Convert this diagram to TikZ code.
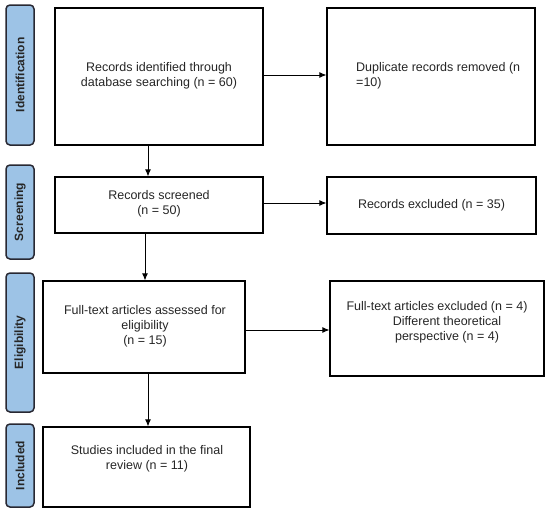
\documentclass[tikz,border=0pt]{standalone}
\usepackage{fontspec}
\setmainfont{Liberation Sans}
\usetikzlibrary{arrows.meta}
\definecolor{lblfill}{RGB}{157,195,230}
\definecolor{lbldraw}{RGB}{40,40,50}
\tikzset{
  box/.style={draw=black, line width=1.2pt, fill=white, inner sep=0pt},
  txt/.style={font=\fontsize{12.5}{15}\selectfont, align=center, inner sep=0pt, text=black!85},
  phase/.style={draw=lbldraw, line width=1.5pt, fill=lblfill, rounded corners=4pt, inner sep=0pt, minimum width=28pt},
  phasetxt/.style={font=\fontsize{12}{14}\selectfont\bfseries, rotate=90, inner sep=0pt, text=black!85},
  arr/.style={draw=black, line width=0.9pt, -{Latex[length=7pt,width=6pt]}}
}
\begin{document}
\begin{tikzpicture}[x=1pt,y=-1pt]
\useasboundingbox (0,0) rectangle (550,517);
% phase labels
\node[phase, minimum height=140pt] (pid) at (20,75) {};
\node[phasetxt] (tid) at (pid.center) {Identification};
\node[phase, minimum height=94pt] (psc) at (20,212) {};
\node[phasetxt] (tsc) at (psc.center) {Screening};
\node[phase, minimum height=139pt] (pel) at (20,342.5) {};
\node[phasetxt] (tel) at (pel.center) {Eligibility};
\node[phase, minimum height=83pt] (pin) at (20,465.5) {};
\node[phasetxt] (tin) at (pin.center) {Included};
% boxes
\node[box, minimum width=208pt, minimum height=137pt] (b1) at (159,76.5) {};
\node[txt] (t1) at (159,76) {Records identified through\\database searching (n = 60)};
\node[box, minimum width=208pt, minimum height=137pt] (b2) at (431,76.5) {};
\node[txt, anchor=west, align=left] (t2) at (356,76) {Duplicate records removed (n\\=10)};
\node[box, minimum width=208pt, minimum height=56pt] (b3) at (159,205) {};
\node[txt] (t3) at (159,204) {Records screened\\(n = 50)};
\node[box, minimum width=209pt, minimum height=57pt] (b4) at (431.5,205.5) {};
\node[txt] (t4) at (431.5,205) {Records excluded (n = 35)};
\node[box, minimum width=202pt, minimum height=92pt] (b5) at (144,327) {};
\node[txt] (t5) at (145,326) {Full-text articles assessed for\\eligibility\\(n = 15)};
\node[box, minimum width=214pt, minimum height=95pt] (b6) at (437,328.5) {};
\node[txt] (t6) at (437,322) {Full-text articles excluded (n = 4)\\\hspace*{20pt}Different theoretical\\\hspace*{20pt}perspective (n = 4)};
\node[box, minimum width=207pt, minimum height=80pt] (b7) at (146.5,467) {};
\node[txt] (t7) at (147,459) {Studies included in the final\\review (n = 11)};
% connectors
\coordinate (c1) at (148,0);
\coordinate (c2) at (145,0);
\coordinate (c3) at (148,0);
\coordinate (r1) at (0,75);
\coordinate (r2) at (0,203);
\coordinate (r3) at (0,330);
\draw[arr] (b1.east |- r1) -- (b2.west |- r1);
\draw[arr] (b1.south -| c1) -- (b3.north -| c1);
\draw[arr] (b3.east |- r2) -- (b4.west |- r2);
\draw[arr] (b3.south -| c2) -- (b5.north -| c2);
\draw[arr] (b5.east |- r3) -- (b6.west |- r3);
\draw[arr] (b5.south -| c3) -- (b7.north -| c3);
\end{tikzpicture}
\end{document}
